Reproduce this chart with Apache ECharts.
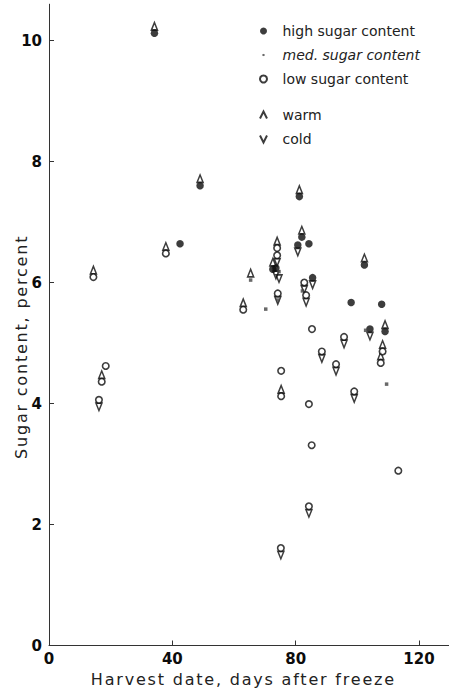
<!DOCTYPE html>
<html>
<head>
<meta charset="utf-8">
<script src="https://cdn.jsdelivr.net/npm/echarts@6/dist/echarts.min.js"></script>
<style>
    html, body { margin: 0; padding: 0; background: #fff; }
    #main { width: 449px; height: 688px; }
    /* the axis titles are set wide in the original lettering */
    #main text[style*="16px"] { letter-spacing: 1.8px; }
</style>
</head>
<body>
<div id="main"></div>
<script>
    // one entry per sample: harvest day, sugar %, sugar class, storage temp
    var days = [14.4, 18.4, 17.1, 16.2, 34.2, 37.9, 42.5, 49.0, 63.0, 65.4,
                70.3, 72.6, 73.6, 74.6, 74.0, 74.0, 74.2, 74.2, 75.3, 75.3,
                75.2, 81.2, 82.0, 80.7, 84.3, 82.8, 82.2, 83.4, 85.5, 85.3,
                84.3, 85.2, 84.3, 88.5, 93.1, 95.7, 98.0, 99.0, 102.3, 102.7,
                104.1, 107.9, 109.0, 108.2, 107.6, 109.5, 113.3];
    var sugar = [6.09, 4.62, 4.36, 4.06, 10.12, 6.48, 6.64, 7.60, 5.55, 6.04,
                 5.56, 6.22, 6.24, 6.18, 6.57, 6.45, 5.82, 5.71, 4.54, 4.12,
                 1.61, 7.42, 6.75, 6.62, 6.64, 6.00, 5.86, 5.79, 6.08, 5.23,
                 3.99, 3.31, 2.30, 4.86, 4.65, 5.10, 5.67, 4.20, 6.29, 5.21,
                 5.23, 5.64, 5.19, 4.86, 4.67, 4.32, 2.89];
    var level = ['low', 'low', 'low', 'low', 'high', 'low', 'high', 'high', 'low', 'med',
                 'med', 'high', 'high', 'med', 'low', 'low', 'low', 'med', 'low', 'low',
                 'low', 'high', 'high', 'high', 'high', 'low', 'med', 'low', 'high', 'low',
                 'low', 'low', 'low', 'low', 'low', 'low', 'high', 'low', 'high', 'med',
                 'high', 'high', 'high', 'low', 'low', 'med', 'low'];
    var temp = ['warm', '', 'warm', 'cold', 'warm', 'warm', '', 'warm', 'warm', 'warm',
                '', 'warm', 'cold', 'cold', 'warm', 'cold', 'cold', '', '', 'warm',
                'cold', 'warm', 'warm', 'cold', '', 'cold', '', 'cold', 'cold', '',
                '', '', 'cold', 'cold', 'cold', 'cold', '', 'cold', 'warm', '',
                'cold', '', 'warm', 'warm', 'warm', '', ''];
    var xTicks = [0, 40, 80, 120];
    var yTicks = [0, 2, 4, 6, 8, 10];

    function pick(list, key) {
        var out = [];
        for (var i = 0; i < days.length; i++) {
            if (list[i] === key) out.push([days[i], sugar[i]]);
        }
        return out;
    }

    var ink = '#0c0c0c';
    var font = 'DejaVu Sans';
    var chart = echarts.init(document.getElementById('main'), null, {renderer: 'svg'});

    var option = {
        backgroundColor: '#fff',
        animation: false,
        grid: {left: 49, top: 4.2, width: 400.8, height: 641.3, containLabel: false, outerBoundsMode: 'none'},
        legend: [{
            orient: 'vertical', left: 254, top: 19, itemGap: 10,
            itemWidth: 28, itemHeight: 7,
            textStyle: {fontFamily: font, fontSize: 14, color: '#222'},
            data: [
                {name: 'high sugar content', icon: 'circle'},
                {name: 'med. sugar content', icon: 'path://M0,0M10,10M3.5,3.5h3v3h-3z', textStyle: {fontStyle: 'italic'}},
                {name: 'low sugar content', icon: 'circle'}
            ]
        }, {
            orient: 'vertical', left: 254, top: 103, itemGap: 10,
            itemWidth: 28, itemHeight: 7,
            textStyle: {fontFamily: font, fontSize: 14, color: '#222'},
            data: [
                {name: 'warm', icon: 'path://M0,10L5,0L10,10'},
                {name: 'cold', icon: 'path://M0,0L5,10L10,0'}
            ]
        }],
        xAxis: {
            type: 'value', min: 0, max: 130, interval: 40,
            name: 'Harvest date, days after freeze',
            nameLocation: 'middle', nameGap: 26, nameMoveOverlap: false,
            nameTextStyle: {fontFamily: font, fontSize: 16, color: '#222', padding: [0, 12, 0, 0]},
            axisLine: {lineStyle: {color: '#333', width: 1}},
            axisTick: {inside: true, length: 5, customValues: xTicks, lineStyle: {color: '#333'}},
            axisLabel: {customValues: xTicks, margin: 6, fontFamily: font, fontSize: 15, fontWeight: 'bold', color: ink},
            splitLine: {show: false}
        },
        yAxis: {
            type: 'value', min: 0, max: 10.6, interval: 2,
            name: 'Sugar content, percent',
            nameLocation: 'middle', nameGap: 20, nameRotate: 90, nameMoveOverlap: false,
            nameTextStyle: {fontFamily: font, fontSize: 16, color: '#222', padding: [0, 44, 0, 0]},
            axisLine: {show: true, lineStyle: {color: '#333', width: 1}},
            axisTick: {show: true, inside: true, length: 5, customValues: yTicks, lineStyle: {color: '#333'}},
            axisLabel: {customValues: yTicks, margin: 7, fontFamily: font, fontSize: 15, fontWeight: 'bold', color: ink},
            splitLine: {show: false}
        },
        series: [
            {
                name: 'high sugar content', type: 'scatter', data: pick(level, 'high'),
                symbol: 'circle', symbolSize: 7.5, z: 3,
                itemStyle: {color: ink}
            },
            {
                name: 'med. sugar content', type: 'scatter', data: pick(level, 'med'),
                symbol: 'rect', symbolSize: 3.5, z: 3,
                itemStyle: {color: '#444'}
            },
            {
                name: 'low sugar content', type: 'scatter', data: pick(level, 'low'),
                symbol: 'circle', symbolSize: 6.5, z: 3,
                itemStyle: {color: '#fff', borderColor: ink, borderWidth: 1.6}
            },
            {
                name: 'warm', type: 'scatter', data: pick(temp, 'warm'),
                symbol: 'path://M0,10L5,0L10,10Z', symbolSize: [6, 7.5], symbolOffset: [0, -7], z: 2,
                itemStyle: {color: 'rgba(255,255,255,0)', borderColor: ink, borderWidth: 1.6}
            },
            {
                name: 'cold', type: 'scatter', data: pick(temp, 'cold'),
                symbol: 'path://M0,0L5,10L10,0Z', symbolSize: [6, 7.5], symbolOffset: [0, 7], z: 2,
                itemStyle: {color: 'rgba(255,255,255,0)', borderColor: ink, borderWidth: 1.6}
            }
        ]
    };

    option && chart.setOption(option);
</script>
</body>
</html>
